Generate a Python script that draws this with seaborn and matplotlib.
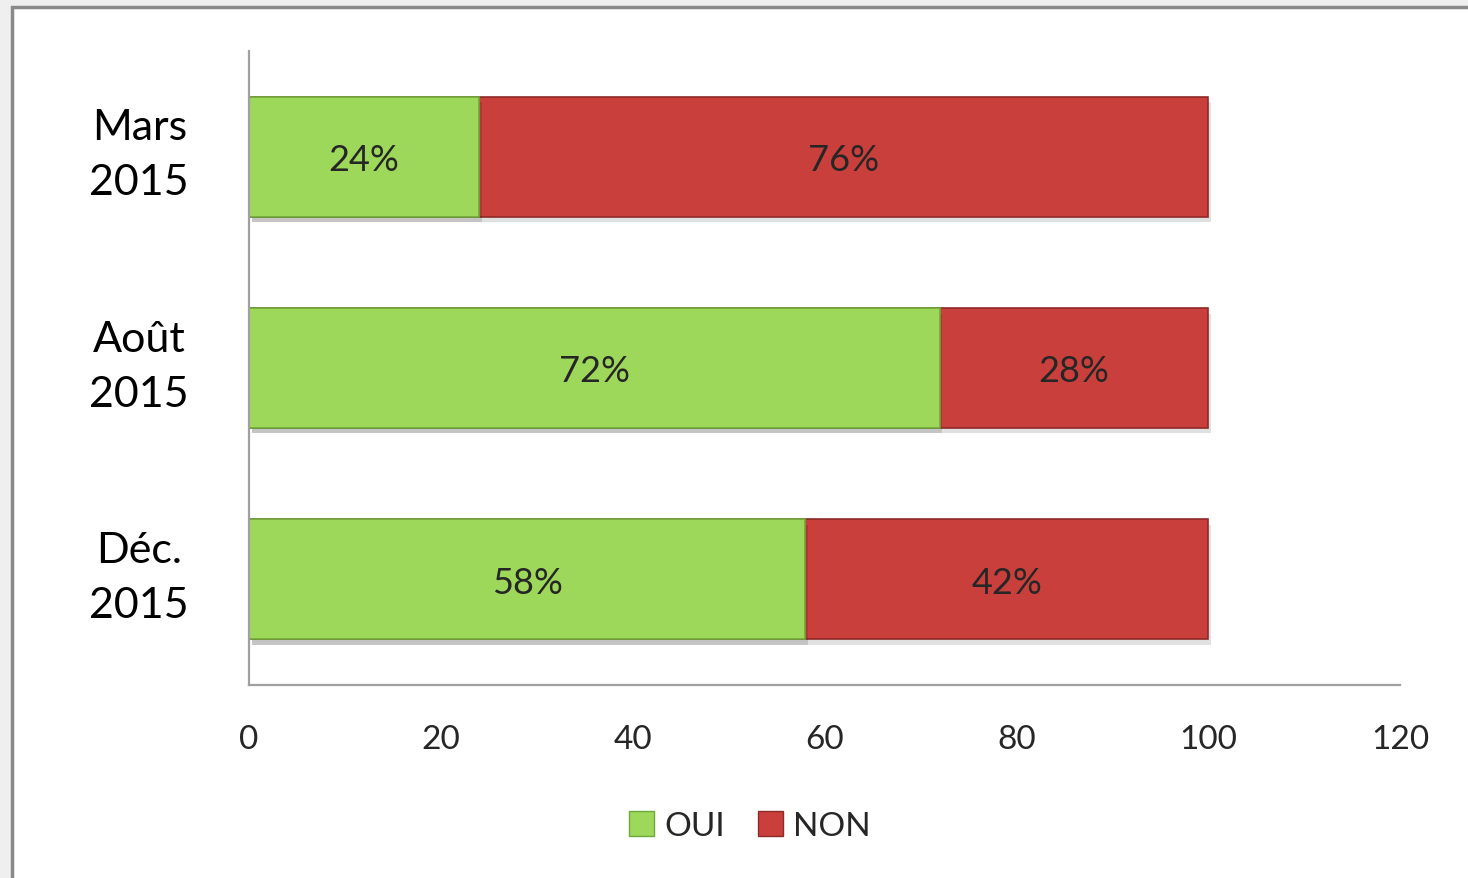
import matplotlib
matplotlib.use("Agg")
import matplotlib.pyplot as plt
import matplotlib.patheffects as pe
import matplotlib.transforms as mtransforms
from matplotlib.patches import Rectangle
import seaborn as sns
import pandas as pd

categories = ["Mars\n2015", "Août\n2015", "Déc.\n2015"]
oui = [24, 72, 58]
non = [76, 28, 42]
xticks = [0, 20, 40, 60, 80, 100, 120]

GREEN = "#9dd85a"
RED = "#c93f3b"

sns.set_theme(style="white")
plt.rcParams["font.family"] = ["Lato", "DejaVu Sans"]

df = pd.DataFrame({"cat": categories, "OUI": oui, "NON": non})
df["total"] = df["OUI"] + df["NON"]

fig = plt.figure(figsize=(14.68, 8.79), dpi=100)
fig.patch.set_facecolor("#efefef")
frame = Rectangle((12 / 1468, -0.1), 1.0, 1.1 - 8 / 879, transform=fig.transFigure,
                  facecolor="white", edgecolor="#8a8a8a", linewidth=2.5, zorder=-5)
fig.patches.append(frame)

ax = fig.add_axes([249 / 1468, 1 - 686 / 879, (1400 - 249) / 1468, (686 - 52) / 879])
ax.set_zorder(2)
ax.set_facecolor("none")

shadow = [pe.SimplePatchShadow(offset=(2, -4), shadow_rgbFace="#000000", alpha=0.12), pe.Normal()]

sns.barplot(data=df, x="total", y="cat", color=RED, saturation=1, width=0.567,
            orient="h", ax=ax, edgecolor="#8e2a27", linewidth=1.2)
sns.barplot(data=df, x="OUI", y="cat", color=GREEN, saturation=1, width=0.567,
            orient="h", ax=ax, edgecolor="#6fa83a", linewidth=1.2)
for p in ax.patches:
    p.set_path_effects(shadow)

for i, (o, n) in enumerate(zip(oui, non)):
    ax.text(o / 2, i, f"{o}%", ha="center", va="center_baseline", fontsize=26, color="#262626")
    ax.text(o + n / 2, i, f"{n}%", ha="center", va="center_baseline", fontsize=26, color="#262626")

ax.set_xlim(0, 120)
ax.set_ylim(2.5, -0.5)
ax.set_xticks(xticks)
ax.set_xticklabels([str(t) for t in xticks], fontsize=24, color="#262626")
ax.set_yticks(range(len(categories)))
ax.set_yticklabels(categories, fontsize=31, color="black", ha="center", linespacing=1.55)
ax.tick_params(axis="x", length=0, pad=28)
ax.tick_params(axis="y", length=0, pad=79)
offset = mtransforms.ScaledTranslation(0, 10 / 72, fig.dpi_scale_trans)
for lbl in ax.get_yticklabels():
    lbl.set_transform(lbl.get_transform() + offset)
ax.set_xlabel("")
ax.set_ylabel("")
for s in ["top", "right"]:
    ax.spines[s].set_visible(False)
for s in ["left", "bottom"]:
    ax.spines[s].set_color("#a0a0a0")
    ax.spines[s].set_linewidth(1.6)

handles = [Rectangle((0, 0), 1, 1, facecolor=GREEN, edgecolor="#6fa83a"),
           Rectangle((0, 0), 1, 1, facecolor=RED, edgecolor="#8e2a27")]
leg = fig.legend(handles, ["OUI", "NON"], loc="center", bbox_to_anchor=(750 / 1468, 1 - 827 / 879),
                 ncol=2, frameon=False, fontsize=24, handlelength=0.75, handleheight=0.75,
                 handletextpad=0.3, columnspacing=1.0)
leg.set_zorder(3)

fig.savefig("out.png", dpi=100, facecolor=fig.get_facecolor())
